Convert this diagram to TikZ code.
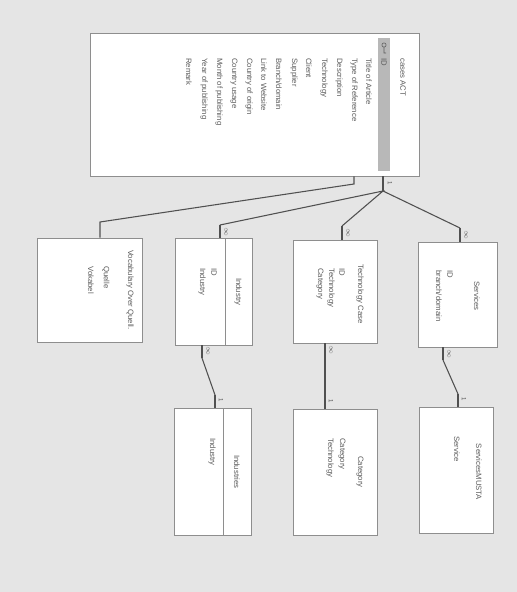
\documentclass[tikz,border=0pt]{standalone}
\usepackage{fontspec}
\setmainfont{Liberation Sans}
\usetikzlibrary{positioning,fit,calc}
\definecolor{scanbg}{HTML}{E5E5E5}
\definecolor{boxline}{HTML}{8E8E8E}
\definecolor{txtgray}{HTML}{5C5C5C}
\definecolor{relline}{HTML}{505050}
\definecolor{keyband}{HTML}{B8B8B8}

\begin{document}
\begin{tikzpicture}[
  x=0.75pt, y=-0.75pt,
  font=\fontsize{5.8}{7}\selectfont,
  tbl/.style={rectangle, draw=boxline, fill=white, line width=0.6pt, inner sep=0pt},
  ttl/.style={rotate=-90, text=txtgray, inner sep=0pt},
  fld/.style={rotate=-90, anchor=west, text=txtgray, inner sep=0pt},
  sep/.style={draw=boxline, line width=0.5pt},
  rel/.style={draw=relline, line width=0.8pt},
  relend/.style={draw=relline, line width=1.8pt},
  card/.style={rotate=-90, text=relline, inner sep=0pt, font=\fontsize{4.5}{5}\selectfont},
]

% scanned page
\fill[scanbg] (0,0) rectangle (517,592);
\useasboundingbox (0,0) rectangle (517,592);

% cases ACT
\node[tbl, fit={(90,33) (419,176)}] (act) {};
\fill[keyband] (378,38) rectangle (390,171);
\node[ttl, anchor=west] (actttl) at (403,58) {cases ACT};
\draw[txtgray, line width=0.4pt] (384,45) circle[radius=1.6pt] (384,47) -- (384,53) -- (386,53);
\node[fld] (fid) at (384,58) {ID};
\foreach \f [count=\i] in {Title of Article, Type of Reference, Description,
  Technology, Client, Supplier, Branch/domain, Link to Website,
  Country of origin, Country usage, Month of publishing,
  Year of publishing, Remark}
  \node[fld] (f\i) at ({384-15*\i},58) {\f};

% Vocabulary
\node[tbl, fit={(37,238) (142,342)}] (voc) {};
\node[ttl] (vocttl) at (130,290) {Vocabulary Over Quell.};
\node[fld] (vocq) at (106,266) {Quelle};
\node[fld] (vocv) at (91,266) {Vokabel};

% Industry
\node[tbl, fit={(175,238) (252,345)}] (ind) {};
\draw[sep] (225,238) -- (225,345);
\node[ttl] (indttl) at (238,292) {Industry};
\node[fld] (indid) at (214,268) {ID};
\node[fld] (indname) at (202,268) {Industry};

% Technology Case
\node[tbl, fit={(293,240) (377,343)}] (tec) {};
\node[ttl] (tecttl) at (360,294) {Technology Case};
\node[fld] (tecid) at (342,268) {ID};
\node[fld] (tectech) at (331,268) {Technology};
\node[fld] (teccat) at (320,268) {Category};

% Services
\node[tbl, fit={(418,242) (497,347)}] (svc) {};
\node[ttl] (svcttl) at (477,296) {Services};
\node[fld] (svcid) at (450,270) {ID};
\node[fld] (svcbr) at (439,270) {branch/domain};

% Industries
\node[tbl, fit={(174,408) (251,535)}] (inds) {};
\draw[sep] (223,408) -- (223,535);
\node[ttl] (indsttl) at (237,472) {Industries};
\node[fld] (indsname) at (212,438) {Industry};

% Category
\node[tbl, fit={(293,409) (377,535)}] (cat) {};
\node[ttl] (catttl) at (360,472) {Category};
\node[fld] (catcat) at (342,438) {Category};
\node[fld] (cattech) at (330,438) {Technology};

% ServicesMUSTA
\node[tbl, fit={(419,407) (493,533)}] (svm) {};
\node[ttl] (svmttl) at (479,472) {ServicesMUSTA};
\node[fld] (svmsvc) at (457,436) {Service};

% Relations from cases ACT
\coordinate (j) at (383,191);
\draw[relend] (act.south -| j) -- (j);
\node[card] at (390,183) {1};
\coordinate (indin) at (220,225);
\coordinate (tecin) at (342,226);
\coordinate (svcin) at (460,228);
\draw[rel] (indin) -- (j) -- (tecin);
\draw[rel] (j) -- (svcin);
\draw[relend] (indin) -- (ind.north -| indin);
\draw[relend] (tecin) -- (tec.north -| tecin);
\draw[relend] (svcin) -- (svc.north -| svcin);
\node[card] at (226,232) {$\infty$};
\node[card] at (348,233) {$\infty$};
\node[card] at (466,235) {$\infty$};

% Vocabulary join
\coordinate (vocout) at (354,184);
\coordinate (vocin) at (100,222);
\draw[rel] (act.south -| vocout) -- (vocout) -- (vocin) -- (voc.north -| vocin);

% Lookups
\coordinate (indout) at (202,358);
\coordinate (indsin) at (215,395);
\draw[relend] (ind.south -| indout) -- (indout);
\draw[rel] (indout) -- (indsin);
\draw[relend] (indsin) -- (inds.north -| indsin);
\node[card] at (208,351) {$\infty$};
\node[card] at (221,400) {1};

\coordinate (tecout) at (325,356);
\coordinate (catin) at (325,396);
\draw[relend] (tec.south -| tecout) -- (tecout);
\draw[rel] (tecout) -- (catin);
\draw[relend] (catin) -- (cat.north -| catin);
\node[card] at (331,350) {$\infty$};
\node[card] at (331,401) {1};

\coordinate (svcout) at (443,360);
\coordinate (svmin) at (458,394);
\draw[relend] (svc.south -| svcout) -- (svcout);
\draw[rel] (svcout) -- (svmin);
\draw[relend] (svmin) -- (svm.north -| svmin);
\node[card] at (449,354) {$\infty$};
\node[card] at (464,399) {1};

\end{tikzpicture}
\end{document}
